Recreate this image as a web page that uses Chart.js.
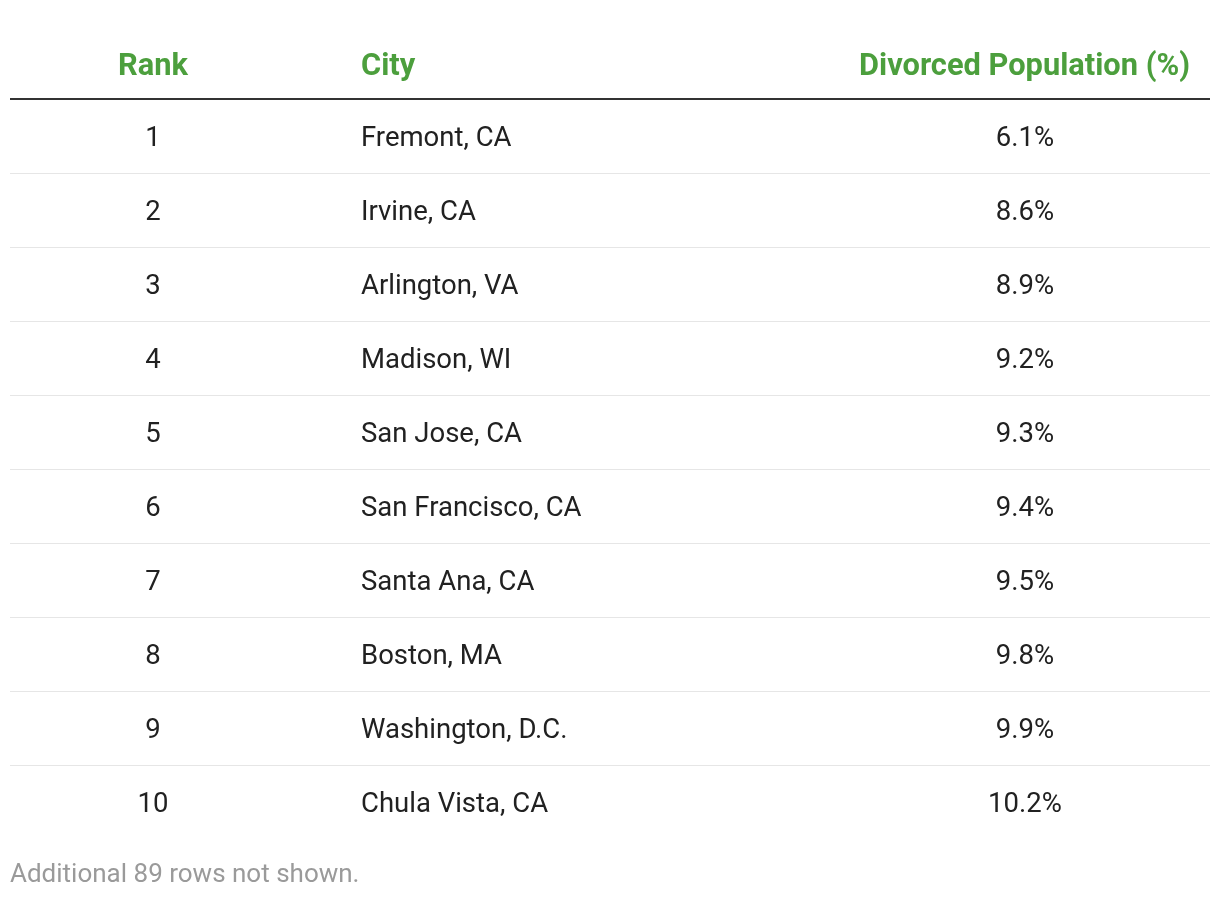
<!DOCTYPE html>
<html>
<head>
<meta charset="utf-8">
<script src="https://cdn.jsdelivr.net/npm/chart.js@4.4.0/dist/chart.umd.min.js"></script>
<style>
  html, body { margin: 0; padding: 0; background: #fff; }
  #wrap { width: 1220px; height: 898px; }
</style>
</head>
<body>
<div id="wrap"><canvas id="table"></canvas></div>
<script>
const headers = ['Rank', 'City', 'Divorced Population (%)'];
const ranks = ['1', '2', '3', '4', '5', '6', '7', '8', '9', '10'];
const cities = ['Fremont, CA', 'Irvine, CA', 'Arlington, VA', 'Madison, WI', 'San Jose, CA',
    'San Francisco, CA', 'Santa Ana, CA', 'Boston, MA', 'Washington, D.C.', 'Chula Vista, CA'];
const divorced = [6.1, 8.6, 8.9, 9.2, 9.3, 9.4, 9.5, 9.8, 9.9, 10.2];
const footnote = 'Additional 89 rows not shown.';

// column anchors on the x scale (0..1200 across the table width)
const colRank = 143;
const colCity = 351;
const colValue = 1015;
const colHeadRight = 1180;

const green = '#4c9f3d';
const ink = '#212121';

const tablePlugin = {
    id: 'tableCells',
    afterDatasetsDraw(chart) {
        const { ctx, chartArea: { left, right, top, bottom }, scales: { x, y } } = chart;
        ctx.save();
        ctx.textBaseline = 'alphabetic';

        // header
        ctx.fillStyle = green;
        ctx.font = 'bold 30.8px Roboto';
        const headBase = top - 24;
        ctx.textAlign = 'center';
        ctx.fillText(headers[0], x.getPixelForValue(colRank), headBase);
        ctx.textAlign = 'left';
        ctx.fillText(headers[1], x.getPixelForValue(colCity), headBase);
        ctx.textAlign = 'right';
        ctx.fillText(headers[2], x.getPixelForValue(colHeadRight), headBase);

        // row separators
        ctx.strokeStyle = '#e6e6e6';
        ctx.lineWidth = 1;
        for (let i = 1; i < ranks.length; i++) {
            const yy = Math.round((y.getPixelForValue(i - 1) + y.getPixelForValue(i)) / 2) + 0.5;
            ctx.beginPath();
            ctx.moveTo(left, yy);
            ctx.lineTo(right, yy);
            ctx.stroke();
        }

        // header rule
        ctx.strokeStyle = '#333';
        ctx.lineWidth = 2;
        ctx.beginPath();
        ctx.moveTo(left, top);
        ctx.lineTo(right, top);
        ctx.stroke();

        // cells
        ctx.fillStyle = ink;
        ctx.font = '27.5px Roboto';
        ranks.forEach((r, i) => {
            const yy = y.getPixelForValue(i) + 10;
            ctx.textAlign = 'center';
            ctx.fillText(r, x.getPixelForValue(colRank), yy);
            ctx.textAlign = 'left';
            ctx.fillText(cities[i], x.getPixelForValue(colCity), yy);
            ctx.textAlign = 'center';
            ctx.fillText(divorced[i].toFixed(1) + '%', x.getPixelForValue(colValue), yy);
        });

        // footnote
        ctx.fillStyle = '#9a9a9a';
        ctx.font = '26px Roboto';
        ctx.textAlign = 'left';
        ctx.fillText(footnote, left, bottom + 43);

        ctx.restore();
    }
};

new Chart(document.getElementById('table'), {
    type: 'scatter',
    data: {
        labels: ranks,
        datasets: [{
            data: divorced.map((v, i) => ({ x: colValue, y: ranks[i] })),
            pointRadius: 0
        }]
    },
    options: {
        responsive: true,
        maintainAspectRatio: false,
        animation: false,
        events: [],
        layout: { padding: { left: 10, right: 10, top: 99, bottom: 59 } },
        plugins: {
            legend: { display: false },
            tooltip: { enabled: false }
        },
        scales: {
            x: { type: 'linear', min: 0, max: 1200, display: false },
            y: { type: 'category', labels: ranks, offset: true, display: false }
        }
    },
    plugins: [tablePlugin]
});
</script>
</body>
</html>
